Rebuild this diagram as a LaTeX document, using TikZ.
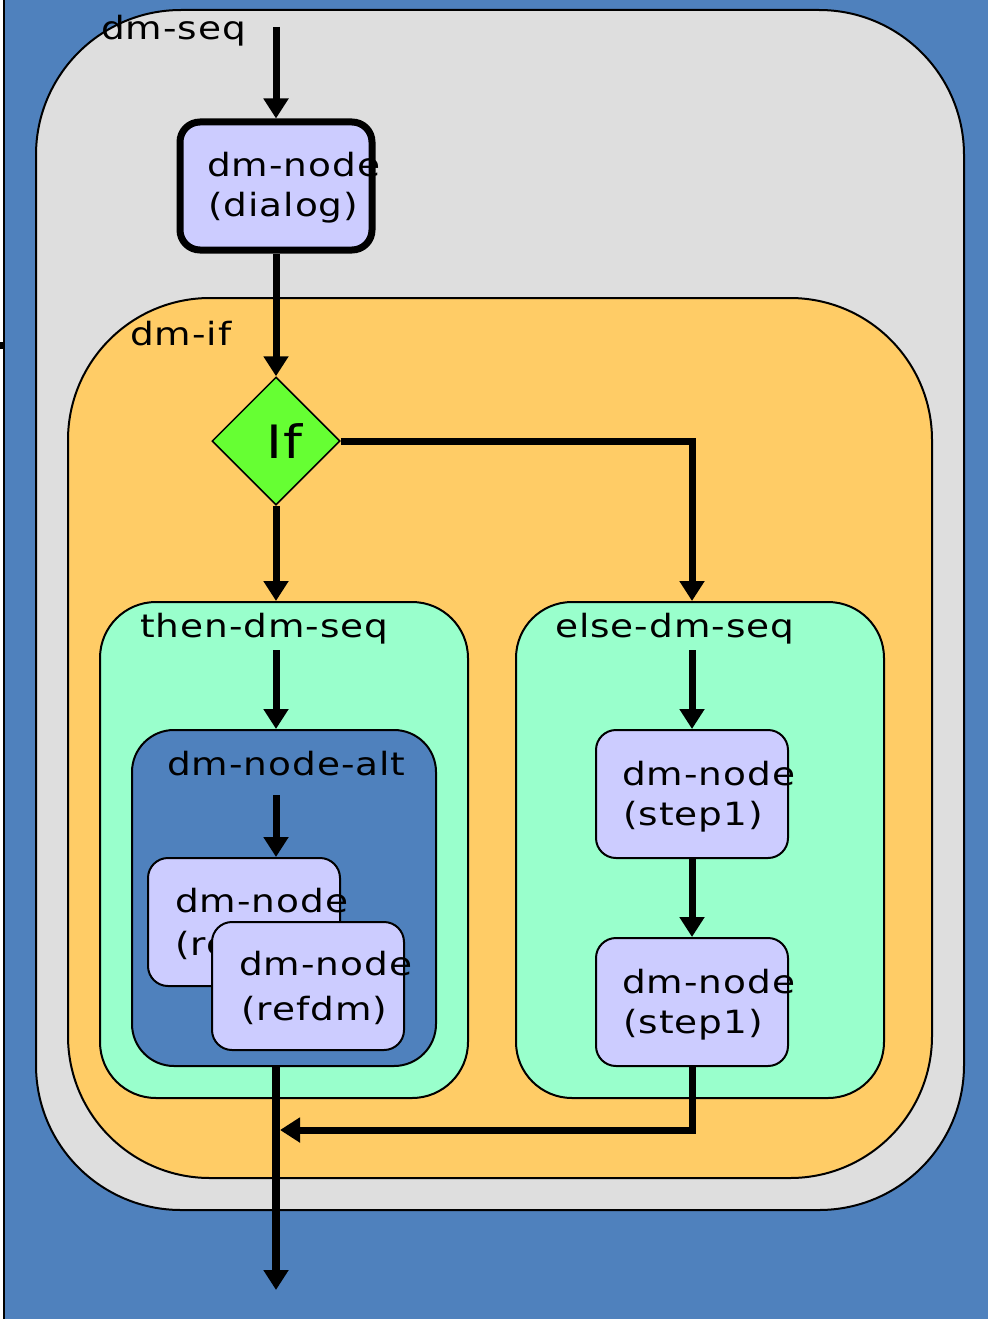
\documentclass[tikz,border=0pt]{standalone}
\usepackage{fontspec}
\setmainfont{DejaVu Sans}[FakeStretch=1.17,LetterSpace=3]
\usetikzlibrary{shapes.geometric,arrows.meta}
\definecolor{bgblue}{HTML}{4F81BD}
\definecolor{seqgray}{HTML}{DEDEDE}
\definecolor{iforange}{HTML}{FFCC66}
\definecolor{seqaqua}{HTML}{99FFCC}
\definecolor{nodelav}{HTML}{CCCCFF}
\definecolor{ifgreen}{HTML}{66FF33}
\begin{document}
\begin{tikzpicture}[x=1pt,y=-1pt,
  container/.style={draw=black, line width=2pt, rounded corners=#1, inner sep=0pt},
  dmbox/.style={draw=black, fill=nodelav, line width=2pt, rounded corners=20pt, inner sep=0pt,
    minimum width=192pt, minimum height=128pt},
  lbl/.style={anchor=base west, inner sep=0pt, font=\fontsize{32}{38}\selectfont},
  flow/.style={line width=7pt, -{Triangle[width=24pt,length=20pt]}}
]
\useasboundingbox (0,0) rectangle (988,1319);
\fill[bgblue] (0,0) rectangle (988,1319);
\fill[white] (0,0) rectangle (3,1319);
\fill[black] (3,0) rectangle (5,1319);
\fill[black] (0,342) rectangle (5,349);

% containers
\node[container=145pt, fill=seqgray, minimum width=928pt, minimum height=1200pt] (seq) at (500,610) {};
\node[container=142pt, fill=iforange, minimum width=864pt, minimum height=880pt] (dmif) at (500,738) {};
\node[container=56pt, fill=seqaqua, minimum width=368pt, minimum height=496pt] (thenseq) at (284,850) {};
\node[container=56pt, fill=seqaqua, minimum width=368pt, minimum height=496pt] (elseseq) at (700,850) {};
\node[container=42pt, fill=bgblue, minimum width=304pt, minimum height=336pt] (alt) at (284,898) {};

% container labels
\node[lbl] (lseq) at (101,40) {dm-seq};
\node[lbl] (lif) at (130,345) {dm-if};
\node[lbl] (lthen) at (140,637) {then-dm-seq};
\node[lbl] (lelse) at (555,637) {else-dm-seq};
\node[lbl] (lalt) at (167,775) {dm-node-alt};

% dialog node
\node[dmbox, line width=7pt] (dialog) at (276,186) {};
\node[lbl] (dialogA) at (207,176) {dm-node};
\node[lbl] (dialogB) at (208,216) {(dialog)};

% if diamond
\node[diamond, draw=black, fill=ifgreen, line width=1.5pt, aspect=1, inner sep=0pt,
  minimum width=128pt, minimum height=128pt] (if) at (276,441) {};
\node[anchor=base west, inner sep=0pt, font=\fontsize{46}{52}\selectfont] (ifl) at (266,458) {If};

% refdm nodes
\node[dmbox] (refback) at (244,922) {};
\node[lbl] (refbackA) at (175,912) {dm-node};
\node[lbl] (refbackB) at (175,955) {(refdm)};
\node[dmbox] (reffront) at (308,986) {};
\node[lbl] (reffrontA) at (239,975) {dm-node};
\node[lbl] (reffrontB) at (241,1020) {(refdm)};

% step nodes
\node[dmbox] (stepa) at (692,794) {};
\node[lbl] (stepaA) at (622,785) {dm-node};
\node[lbl] (stepaB) at (623,825) {(step1)};
\node[dmbox] (stepb) at (692,1002) {};
\node[lbl] (stepbA) at (622,993) {dm-node};
\node[lbl] (stepbB) at (623,1033) {(step1)};

% coordinates
\coordinate (start) at (276,27);
\coordinate (tstart) at (276,650);
\coordinate (astart) at (276,795);
\coordinate (estart) at (692,650);
\coordinate (ecol) at (692,441);
\coordinate (join) at (280,1130);
\coordinate (exit) at (276,1290);

% connectors
\draw[flow] (start) -- (start |- dialog.north);
\draw[flow] (dialog.south) -- (if.north);
\draw[flow] (if.south) -- (if.south |- thenseq.north);
\draw[flow] (if.east) -- (ecol) -- (ecol |- elseseq.north);
\draw[flow] (tstart) -- (tstart |- alt.north);
\draw[flow] (astart) -- (astart |- refback.north);
\draw[flow] (estart) -- (estart |- stepa.north);
\draw[flow] (stepa.south) -- (stepb.north);
\draw[flow] (stepb.south) |- (join);
\draw[flow, line width=8pt] (tstart |- alt.south) -- (exit);
\end{tikzpicture}
\end{document}
